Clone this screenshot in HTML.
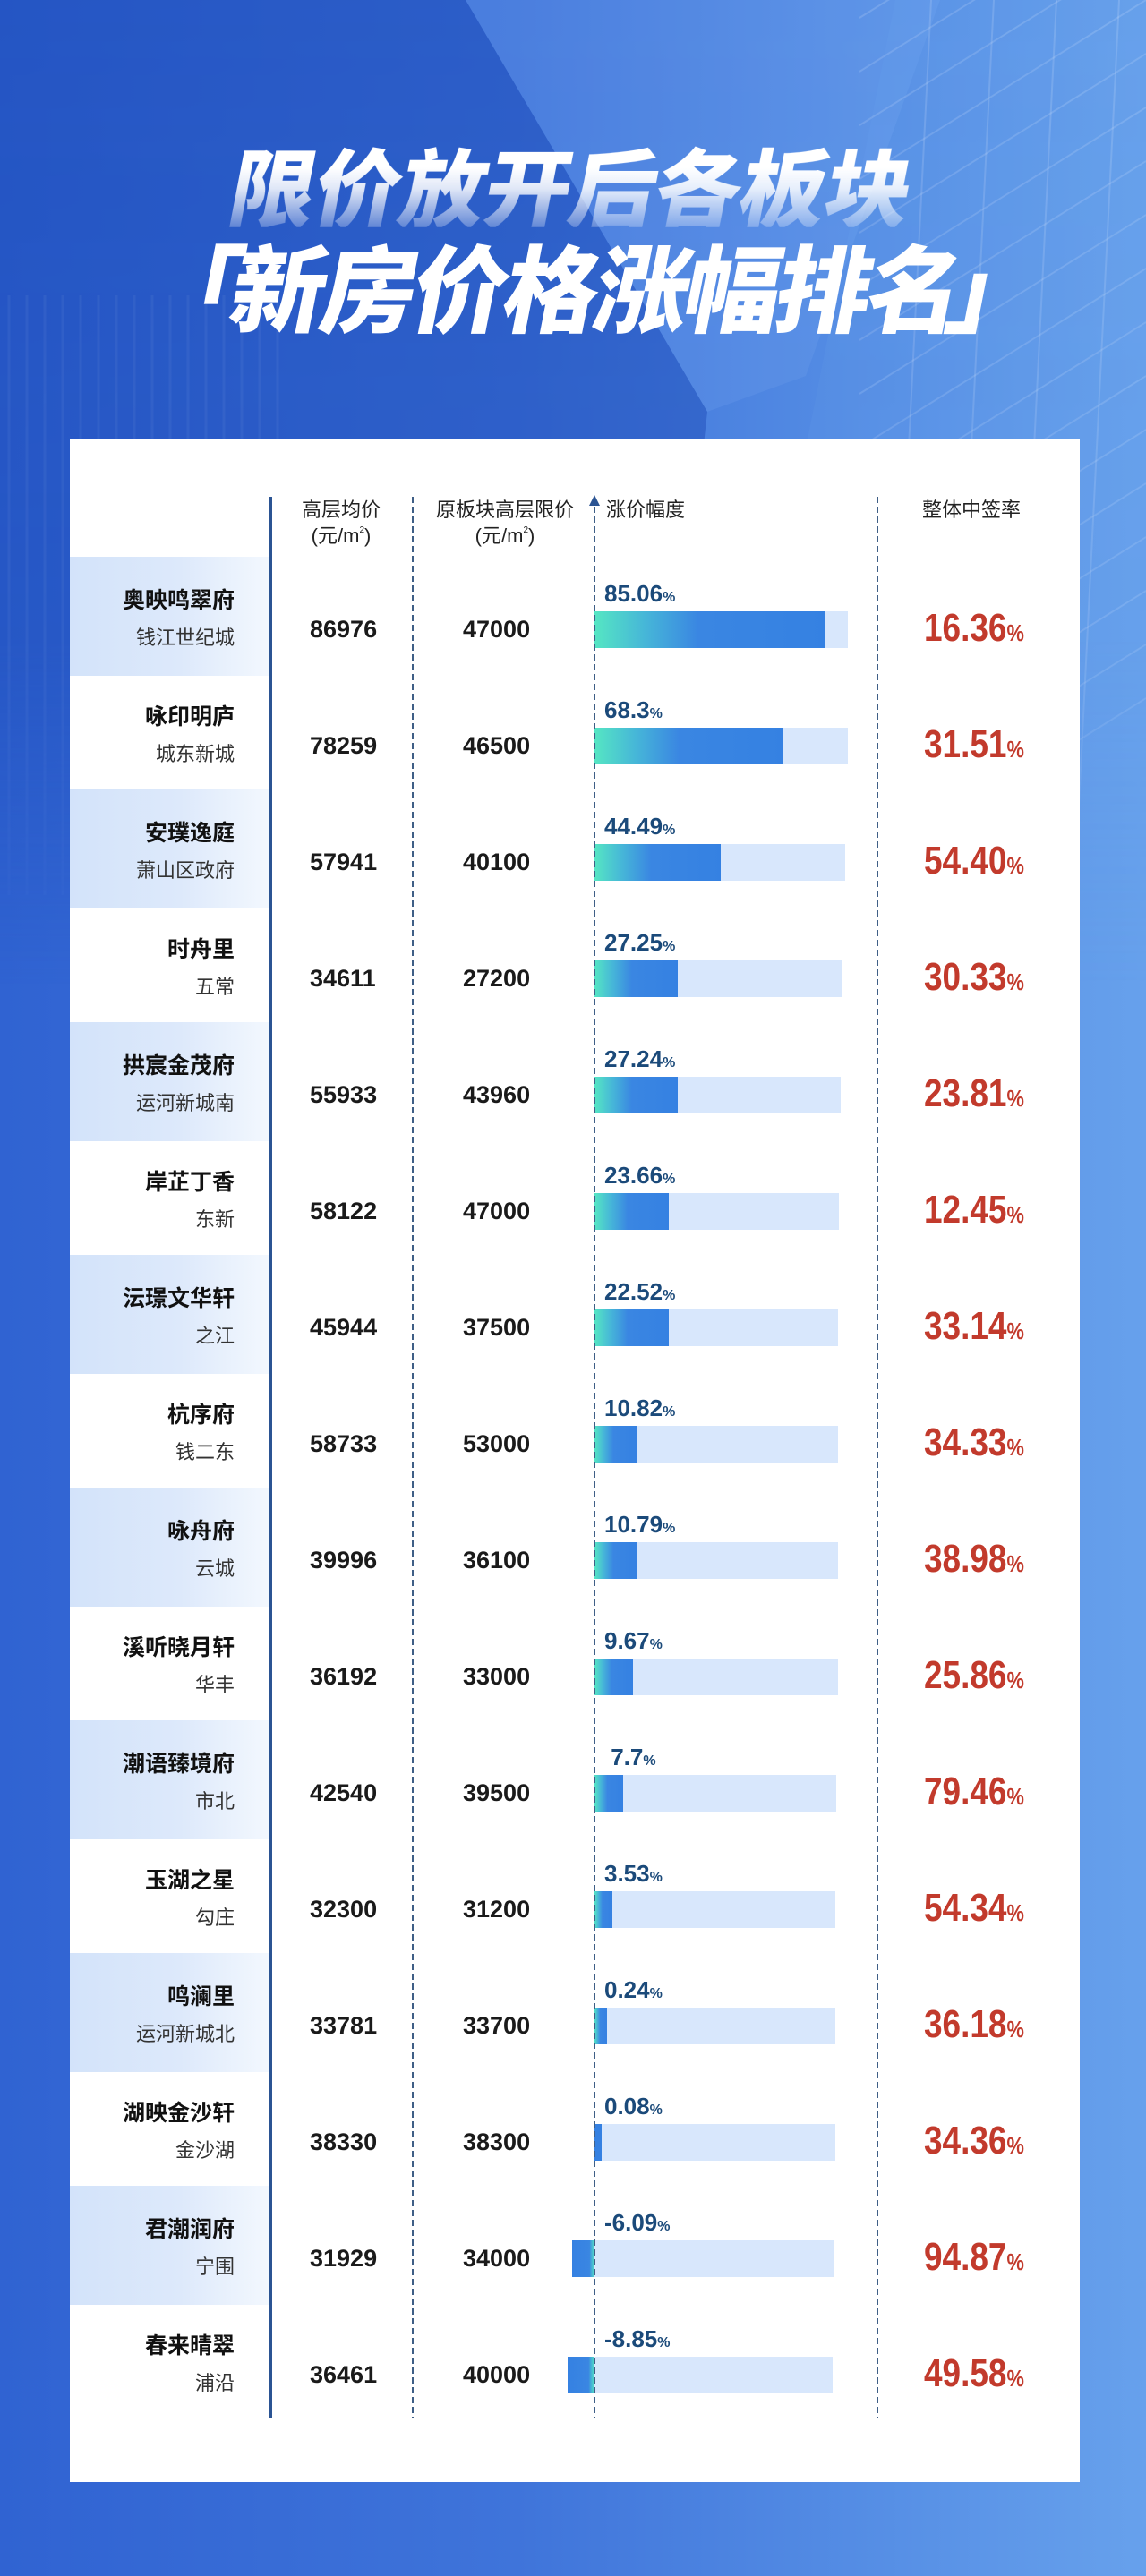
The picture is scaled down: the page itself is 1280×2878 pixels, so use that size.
<!DOCTYPE html>
<html><head><meta charset="utf-8">
<style>
*{margin:0;padding:0;box-sizing:border-box}
html,body{width:1280px;height:2878px;overflow:hidden}
body{position:relative;font-family:"Liberation Sans","Noto Sans CJK SC",sans-serif;background:#3d72da}
.abs{position:absolute}
.card{position:absolute;left:78px;top:490px;width:1128px;height:2283px;background:#fff}
.t1{position:absolute;left:0;top:158px;width:1278px;text-align:center;font-family:"Noto Sans CJK SC",sans-serif;font-weight:900;font-size:96px;line-height:96px;letter-spacing:-1px;transform:skewX(-11deg);background:linear-gradient(180deg,#fff 30%,rgba(255,255,255,.85) 55%,rgba(255,255,255,.25) 100%);-webkit-background-clip:text;background-clip:text;color:transparent;white-space:nowrap}
.t2{position:absolute;left:261px;top:264px;font-family:"Noto Sans CJK SC",sans-serif;font-weight:900;font-size:106px;line-height:106px;letter-spacing:-4.5px;color:#fff;transform:skewX(-11deg);white-space:nowrap}
.br{position:absolute;top:264px;font-family:"Noto Sans CJK JP",sans-serif;font-weight:900;font-size:106px;line-height:106px;color:#fff;transform:skewX(-11deg)}
.hd{position:absolute;font-family:"Liberation Sans","Noto Sans CJK SC",sans-serif;font-size:22px;line-height:22px;color:#222;white-space:nowrap}
.hd sup{font-size:10px;vertical-align:top;line-height:10px}
.vl{position:absolute;top:555px;height:2146px;width:2px;background:repeating-linear-gradient(to bottom,#3f5f86 0 7px,transparent 7px 11px)}
.row{position:absolute;left:0;width:1280px;height:130px}
.band{position:absolute;left:78px;top:0;width:224px;height:133px;background:linear-gradient(90deg,#d3e3fa 0%,#dde9fb 55%,#f3f8fe 100%)}
.nm{position:absolute;left:40px;width:222px;top:37px;text-align:right;font-family:"Liberation Sans","Noto Sans CJK SC",sans-serif;font-weight:700;font-size:25px;line-height:25px;color:#111;white-space:nowrap}
.sb{position:absolute;left:40px;width:222px;top:80px;text-align:right;font-family:"Liberation Sans","Noto Sans CJK SC",sans-serif;font-weight:400;font-size:22px;line-height:22px;color:#333;white-space:nowrap}
.n1,.n2{position:absolute;top:68px;font-family:"Liberation Sans",sans-serif;font-weight:700;font-size:27px;line-height:27px;color:#1a1a1a}
.n1{left:346px}.n2{left:517px}
.lb{position:absolute;left:675px;top:28px;font-family:"Liberation Sans",sans-serif;font-weight:700;font-size:26px;line-height:26px;color:#1b4a7a;white-space:nowrap}
.lb small{font-size:16px}
.tr{position:absolute;left:664px;top:61px;height:41px;background:#d8e7fc}
.fl{position:absolute;left:664px;top:61px;height:41px;background:linear-gradient(90deg,#55e6c3 0%,#46b6d8 22%,#3a86e2 45%,#3581e2 100%)}
.fn{position:absolute;top:61px;height:41px;background:linear-gradient(270deg,#55e6c3 0%,#3a86e2 22%,#3581e2 100%)}
.pc{position:absolute;left:1032px;top:58px;font-family:"Liberation Sans",sans-serif;font-weight:700;font-size:44px;line-height:44px;color:#c23a2c;transform:scaleX(.84);transform-origin:0 0;white-space:nowrap}
.pc small{font-size:26px}
</style></head>
<body>
<svg class="abs" style="left:0;top:0" width="1280" height="2878" viewBox="0 0 1280 2878">
<defs>
<linearGradient id="bg" x1="0" y1="0" x2="1" y2="0">
<stop offset="0" stop-color="#3063d2"/><stop offset=".45" stop-color="#3f74da"/><stop offset=".8" stop-color="#5891e6"/><stop offset="1" stop-color="#67a1ec"/>
</linearGradient>
<linearGradient id="fv" x1="0" y1="0" x2="0" y2="1">
<stop offset="0" stop-color="#fff" stop-opacity="1"/><stop offset=".65" stop-color="#fff" stop-opacity=".85"/><stop offset="1" stop-color="#fff" stop-opacity="0"/>
</linearGradient>
<mask id="m"><rect x="0" y="0" width="1280" height="1100" fill="url(#fv)"/></mask>
</defs>
<rect width="1280" height="2878" fill="url(#bg)"/>
<g mask="url(#m)">
<polygon points="0,0 520,0 790,460 720,1100 0,1100" fill="#1a47b6" opacity=".5"/>
<polygon points="520,0 1050,0 900,420 790,460" fill="#86b4f2" opacity=".18"/>
<polygon points="1000,0 1280,0 1280,1100 900,1100 880,600" fill="#6b9fe9" opacity=".18"/>
<g stroke="#ffffff" stroke-opacity=".14" stroke-width="2">
<line x1="1280" y1="-180" x2="960" y2="20"/><line x1="1280" y1="-120" x2="960" y2="80"/><line x1="1280" y1="-60" x2="960" y2="140"/><line x1="1280" y1="0" x2="960" y2="200"/><line x1="1280" y1="60" x2="960" y2="260"/><line x1="1280" y1="120" x2="960" y2="320"/><line x1="1280" y1="180" x2="960" y2="380"/><line x1="1280" y1="240" x2="960" y2="440"/><line x1="1280" y1="300" x2="960" y2="500"/><line x1="1280" y1="360" x2="960" y2="560"/><line x1="1280" y1="420" x2="960" y2="620"/><line x1="1280" y1="480" x2="960" y2="680"/><line x1="1280" y1="540" x2="960" y2="740"/><line x1="1280" y1="600" x2="960" y2="800"/><line x1="1280" y1="660" x2="960" y2="860"/><line x1="1280" y1="720" x2="960" y2="920"/><line x1="1280" y1="780" x2="960" y2="980"/>
<line x1="1040" y1="0" x2="990" y2="1000"/><line x1="1110" y1="0" x2="1060" y2="1000"/><line x1="1180" y1="0" x2="1130" y2="1000"/><line x1="1250" y1="0" x2="1200" y2="1000"/>
</g>
<g stroke="#ffffff" stroke-opacity=".05" stroke-width="3">
<line x1="10" y1="330" x2="10" y2="1000"/><line x1="30" y1="330" x2="30" y2="1000"/><line x1="50" y1="330" x2="50" y2="1000"/><line x1="70" y1="330" x2="70" y2="1000"/><line x1="90" y1="330" x2="90" y2="1000"/><line x1="110" y1="330" x2="110" y2="1000"/><line x1="130" y1="330" x2="130" y2="1000"/><line x1="150" y1="330" x2="150" y2="1000"/><line x1="170" y1="330" x2="170" y2="1000"/><line x1="190" y1="330" x2="190" y2="1000"/><line x1="210" y1="330" x2="210" y2="1000"/><line x1="230" y1="330" x2="230" y2="1000"/><line x1="250" y1="330" x2="250" y2="1000"/><line x1="270" y1="330" x2="270" y2="1000"/><line x1="290" y1="330" x2="290" y2="1000"/><line x1="310" y1="330" x2="310" y2="1000"/>
</g>
</g>
</svg>

<div class="t1">限价放开后各板块</div>
<span class="br" style="left:165px">「</span>
<div class="t2">新房价格涨幅排名</div>
<span class="br" style="left:1062px">」</span>

<div class="card"></div>

<!-- header -->
<div class="hd" style="left:300px;width:162px;top:559px;text-align:center">高层均价</div>
<div class="hd" style="left:300px;width:162px;top:588px;text-align:center">(元/m<sup>2</sup>)</div>
<div class="hd" style="left:464px;width:200px;top:559px;text-align:center">原板块高层限价</div>
<div class="hd" style="left:464px;width:200px;top:588px;text-align:center">(元/m<sup>2</sup>)</div>
<div class="hd" style="left:677px;top:559px">涨价幅度</div>
<div class="hd" style="left:1030px;top:559px">整体中签率</div>

<!-- rows -->
<div class="row" style="top:622px"><div class="band"></div><div class="nm">奥映鸣翠府</div><div class="sb">钱江世纪城</div><div class="n1">86976</div><div class="n2">47000</div><div class="lb">85.06<small>%</small></div><div class="tr" style="width:283px"></div><div class="fl" style="width:258px"></div><div class="pc">16.36<small>%</small></div></div>
<div class="row" style="top:752px"><div class="nm">咏印明庐</div><div class="sb">城东新城</div><div class="n1">78259</div><div class="n2">46500</div><div class="lb">68.3<small>%</small></div><div class="tr" style="width:283px"></div><div class="fl" style="width:211px"></div><div class="pc">31.51<small>%</small></div></div>
<div class="row" style="top:882px"><div class="band"></div><div class="nm">安璞逸庭</div><div class="sb">萧山区政府</div><div class="n1">57941</div><div class="n2">40100</div><div class="lb">44.49<small>%</small></div><div class="tr" style="width:280px"></div><div class="fl" style="width:141px"></div><div class="pc">54.40<small>%</small></div></div>
<div class="row" style="top:1012px"><div class="nm">时舟里</div><div class="sb">五常</div><div class="n1">34611</div><div class="n2">27200</div><div class="lb">27.25<small>%</small></div><div class="tr" style="width:276px"></div><div class="fl" style="width:93px"></div><div class="pc">30.33<small>%</small></div></div>
<div class="row" style="top:1142px"><div class="band"></div><div class="nm">拱宸金茂府</div><div class="sb">运河新城南</div><div class="n1">55933</div><div class="n2">43960</div><div class="lb">27.24<small>%</small></div><div class="tr" style="width:275px"></div><div class="fl" style="width:93px"></div><div class="pc">23.81<small>%</small></div></div>
<div class="row" style="top:1272px"><div class="nm">岸芷丁香</div><div class="sb">东新</div><div class="n1">58122</div><div class="n2">47000</div><div class="lb">23.66<small>%</small></div><div class="tr" style="width:273px"></div><div class="fl" style="width:83px"></div><div class="pc">12.45<small>%</small></div></div>
<div class="row" style="top:1402px"><div class="band"></div><div class="nm">沄璟文华轩</div><div class="sb">之江</div><div class="n1">45944</div><div class="n2">37500</div><div class="lb">22.52<small>%</small></div><div class="tr" style="width:272px"></div><div class="fl" style="width:83px"></div><div class="pc">33.14<small>%</small></div></div>
<div class="row" style="top:1532px"><div class="nm">杭序府</div><div class="sb">钱二东</div><div class="n1">58733</div><div class="n2">53000</div><div class="lb">10.82<small>%</small></div><div class="tr" style="width:272px"></div><div class="fl" style="width:47px"></div><div class="pc">34.33<small>%</small></div></div>
<div class="row" style="top:1662px"><div class="band"></div><div class="nm">咏舟府</div><div class="sb">云城</div><div class="n1">39996</div><div class="n2">36100</div><div class="lb">10.79<small>%</small></div><div class="tr" style="width:272px"></div><div class="fl" style="width:47px"></div><div class="pc">38.98<small>%</small></div></div>
<div class="row" style="top:1792px"><div class="nm">溪听晓月轩</div><div class="sb">华丰</div><div class="n1">36192</div><div class="n2">33000</div><div class="lb">9.67<small>%</small></div><div class="tr" style="width:272px"></div><div class="fl" style="width:43px"></div><div class="pc">25.86<small>%</small></div></div>
<div class="row" style="top:1922px"><div class="band"></div><div class="nm">潮语臻境府</div><div class="sb">市北</div><div class="n1">42540</div><div class="n2">39500</div><div class="lb">&nbsp;7.7<small>%</small></div><div class="tr" style="width:270px"></div><div class="fl" style="width:32px"></div><div class="pc">79.46<small>%</small></div></div>
<div class="row" style="top:2052px"><div class="nm">玉湖之星</div><div class="sb">勾庄</div><div class="n1">32300</div><div class="n2">31200</div><div class="lb">3.53<small>%</small></div><div class="tr" style="width:269px"></div><div class="fl" style="width:20px"></div><div class="pc">54.34<small>%</small></div></div>
<div class="row" style="top:2182px"><div class="band"></div><div class="nm">鸣澜里</div><div class="sb">运河新城北</div><div class="n1">33781</div><div class="n2">33700</div><div class="lb">0.24<small>%</small></div><div class="tr" style="width:269px"></div><div class="fl" style="width:14px"></div><div class="pc">36.18<small>%</small></div></div>
<div class="row" style="top:2312px"><div class="nm">湖映金沙轩</div><div class="sb">金沙湖</div><div class="n1">38330</div><div class="n2">38300</div><div class="lb">0.08<small>%</small></div><div class="tr" style="width:269px"></div><div class="fl" style="width:8px;background:#3581e2"></div><div class="pc">34.36<small>%</small></div></div>
<div class="row" style="top:2442px"><div class="band"></div><div class="nm">君潮润府</div><div class="sb">宁围</div><div class="n1">31929</div><div class="n2">34000</div><div class="lb">-6.09<small>%</small></div><div class="tr" style="width:267px"></div><div class="fn" style="left:639px;width:25px"></div><div class="pc">94.87<small>%</small></div></div>
<div class="row" style="top:2572px"><div class="nm">春来晴翠</div><div class="sb">浦沿</div><div class="n1">36461</div><div class="n2">40000</div><div class="lb">-8.85<small>%</small></div><div class="tr" style="width:266px"></div><div class="fn" style="left:634px;width:30px"></div><div class="pc">49.58<small>%</small></div></div>

<!-- axis lines -->
<div class="abs" style="left:301px;top:555px;width:3px;height:2146px;background:#2b5493"></div>
<div class="vl" style="left:460px"></div>
<div class="vl" style="left:663px;top:566px;height:2135px"></div>
<div class="abs" style="left:658px;top:553px;width:0;height:0;border-left:6px solid transparent;border-right:6px solid transparent;border-bottom:12px solid #2b5493"></div>
<div class="vl" style="left:979px"></div>
</body></html>
